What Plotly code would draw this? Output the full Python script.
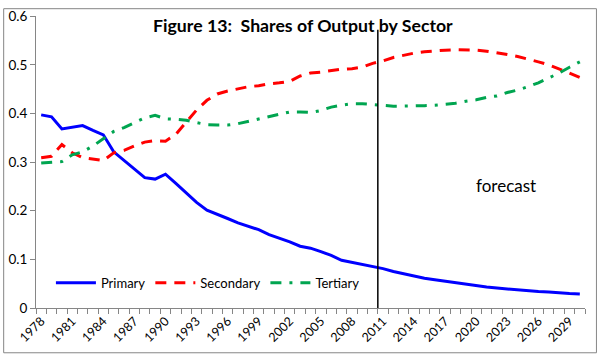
import plotly.graph_objects as go

years = list(range(1978, 2031))

primary = [0.397, 0.393, 0.368, 0.371, 0.375, 0.365, 0.356, 0.321, 0.303, 0.287,
           0.268, 0.265, 0.275, 0.256, 0.236, 0.217, 0.201, 0.193, 0.184, 0.175,
           0.168, 0.161, 0.151, 0.144, 0.136, 0.127, 0.123, 0.116, 0.108, 0.098,
           0.094, 0.089, 0.085, 0.081, 0.075, 0.070, 0.065, 0.061, 0.058, 0.055,
           0.051, 0.049, 0.046, 0.043, 0.041, 0.039, 0.037, 0.035, 0.034, 0.033,
           0.031, 0.030, 0.029]

secondary = [0.309, 0.312, 0.336, 0.319, 0.309, 0.306, 0.303, 0.319, 0.324, 0.333,
             0.341, 0.344, 0.343, 0.357, 0.381, 0.407, 0.427, 0.440, 0.446, 0.451,
             0.455, 0.457, 0.461, 0.463, 0.466, 0.477, 0.483, 0.485, 0.488, 0.491,
             0.492, 0.495, 0.503, 0.508, 0.515, 0.520, 0.524, 0.527, 0.529, 0.530,
             0.531, 0.531, 0.530, 0.528, 0.525, 0.521, 0.517, 0.512, 0.506, 0.500,
             0.492, 0.483, 0.474]

tertiary = [0.298, 0.299, 0.301, 0.315, 0.321, 0.333, 0.348, 0.363, 0.371, 0.381,
            0.391, 0.396, 0.389, 0.388, 0.386, 0.381, 0.377, 0.376, 0.376, 0.379,
            0.384, 0.389, 0.394, 0.398, 0.403, 0.403, 0.402, 0.406, 0.413, 0.417,
            0.420, 0.420, 0.418, 0.416, 0.415, 0.415, 0.415, 0.416, 0.417, 0.419,
            0.421, 0.425, 0.428, 0.433, 0.436, 0.443, 0.448, 0.455, 0.463, 0.473,
            0.483, 0.495, 0.506]

tick_years = list(range(1978, 2030, 3))
tick_labels = [str(y) for y in tick_years]
y_ticks = [0, 0.1, 0.2, 0.3, 0.4, 0.5, 0.6]
y_labels = ["0", "0.1", "0.2", "0.3", "0.4", "0.5", "0.6"]

forecast_start = 2010.5

FONT = "Lato"
GRAY = "#868686"

fig = go.Figure()
fig.add_trace(go.Scatter(x=years, y=primary, name="Primary", mode="lines",
                         line=dict(color="#0000FF", width=3)))
fig.add_trace(go.Scatter(x=years, y=secondary, name="Secondary", mode="lines",
                         line=dict(color="#FF0000", width=3, dash="11px,8px")))
fig.add_trace(go.Scatter(x=years, y=tertiary, name="Tertiary", mode="lines",
                         line=dict(color="#00A550", width=3, dash="11px,8px,3px,8px")))

W, H = 600, 356
ml, mr, mt, mb = 33, 15, 8, 48
pw, ph = W - ml - mr, H - mt - mb

def px_x(p):
    return (p - ml) / pw

def px_y(p):
    return (H - mb - p) / ph

fig.add_shape(type="line", xref="x", yref="y", x0=forecast_start, x1=forecast_start,
              y0=0, y1=0.572, line=dict(color="black", width=1.5), layer="above")

fig.add_shape(type="rect", xref="paper", yref="paper",
              x0=px_x(0.5), x1=px_x(596.5), y0=px_y(354), y1=px_y(0.5),
              line=dict(color=GRAY, width=1))

fig.add_annotation(text="<b>Figure 13:\u00a0 Shares of Output by Sector</b>",
                   xref="paper", yref="paper", x=px_x(301), y=px_y(18),
                   showarrow=False, font=dict(family=FONT, size=17.7, color="black"),
                   xanchor="center", yanchor="middle")
fig.add_annotation(text="forecast", xref="paper", yref="paper",
                   x=px_x(506), y=px_y(182), showarrow=False,
                   font=dict(family=FONT, size=17, color="black"),
                   xanchor="center", yanchor="middle")

fig.update_layout(
    width=W, height=H,
    margin=dict(l=ml, r=mr, t=mt, b=mb),
    paper_bgcolor="white", plot_bgcolor="white",
    font=dict(family=FONT, size=13, color="black"),
    showlegend=True,
    legend=dict(orientation="h", x=px_x(48), y=px_y(282), xanchor="left",
                yanchor="middle", bgcolor="rgba(0,0,0,0)", itemwidth=40,
                font=dict(family=FONT, size=13)),
)
fig.update_xaxes(range=[1977.5, 2030.5], tickvals=tick_years, ticktext=tick_labels,
                 tickangle=-45, ticks="", showline=True, linecolor=GRAY, linewidth=1,
                 showgrid=False, zeroline=False, ticklabeloverflow="allow",
                 tickfont=dict(family=FONT, size=12.5),
                 minor=dict(ticks="outside", ticklen=5, tick0=1977.5, dtick=1,
                            tickcolor=GRAY, showgrid=False))
fig.update_yaxes(range=[0, 0.6003], tickvals=y_ticks, ticktext=y_labels,
                 ticks="outside", ticklen=5, tickcolor=GRAY, showline=True,
                 linecolor=GRAY, linewidth=1, showgrid=False, zeroline=False,
                 ticklabeloverflow="allow",
                 tickfont=dict(family=FONT, size=13.5))

fig.write_html("out.html", post_script="document.body.style.margin='0';",
               config={"displayModeBar": False})
